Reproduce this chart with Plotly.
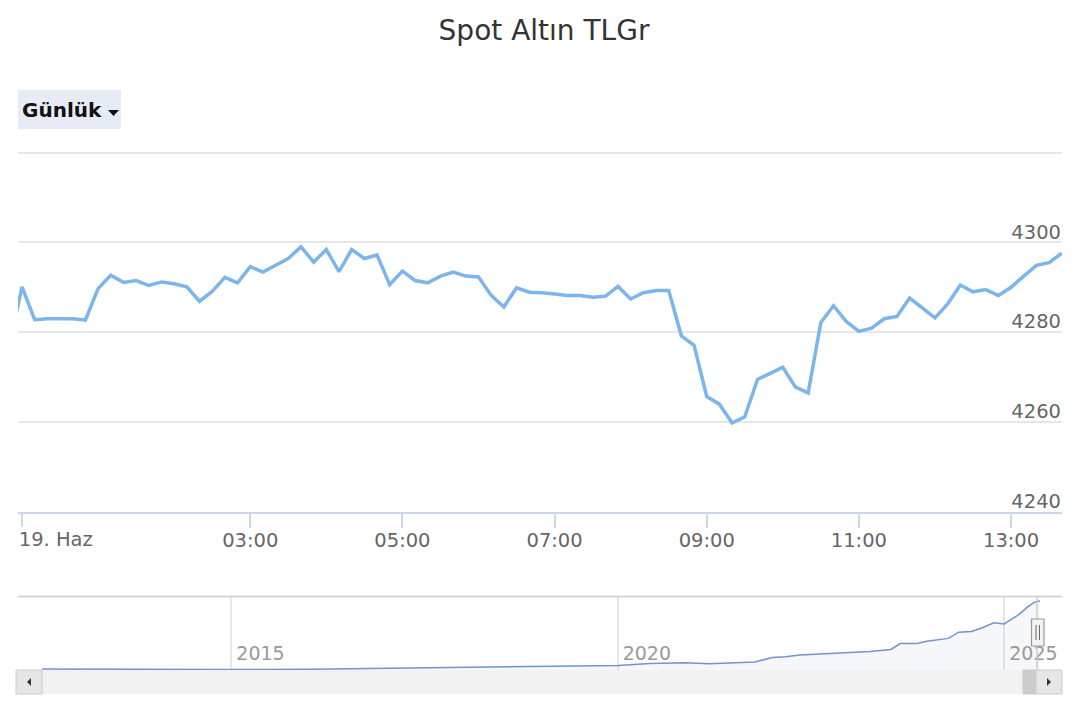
import pandas as pd
import plotly.graph_objects as go

# ---------------- data ----------------
TITLE = "Spot Altın TLGr"
BUTTON_LABEL = "Günlük"

# 10-minute intraday prices (first point is the last bar of the previous day)
times = pd.date_range("2025-06-18 23:50", "2025-06-19 13:40", freq="10min")
prices = [4277.0,
          4290.1, 4282.8, 4283.0, 4283.0, 4283.0, 4282.7, 4289.7, 4292.7, 4291.1, 4291.5,
          4290.4, 4291.2, 4290.8, 4290.1, 4286.9, 4289.1, 4292.2, 4291.0, 4294.6, 4293.4,
          4294.9, 4296.4, 4299.0, 4295.6, 4298.4, 4293.5, 4298.4, 4296.4, 4297.2, 4290.6,
          4293.6, 4291.5, 4291.0, 4292.5, 4293.4, 4292.5, 4292.3, 4288.2, 4285.6, 4289.9,
          4288.9, 4288.8, 4288.5, 4288.2, 4288.2, 4287.8, 4288.0, 4290.2, 4287.4, 4288.8,
          4289.3, 4289.3, 4279.2, 4277.1, 4265.7, 4264.0, 4259.8, 4261.2, 4269.5, 4270.9,
          4272.2, 4267.8, 4266.5, 4282.2, 4285.9, 4282.4, 4280.2, 4280.9, 4283.0, 4283.5,
          4287.6, 4285.4, 4283.2, 4286.3, 4290.5, 4289.0, 4289.5, 4288.2, 4290.0, 4292.5,
          4294.9, 4295.5, 4297.6]

x_tick_vals = ["2025-06-19 00:00", "2025-06-19 03:00", "2025-06-19 05:00", "2025-06-19 07:00",
               "2025-06-19 09:00", "2025-06-19 11:00", "2025-06-19 13:00"]
x_tick_text = ["19. Haz", "03:00", "05:00", "07:00", "09:00", "11:00", "13:00"]
y_tick_vals = [4240, 4260, 4280, 4300, 4320]
y_tick_text = ["4240", "4260", "4280", "4300", ""]

# navigator (long-term history)
nav_dates = ["2012-07-21", "2013-06-01", "2013-12-15", "2014-06-15", "2015-01-01", "2016-01-01",
             "2016-09-01", "2017-12-01", "2018-09-05", "2018-12-15", "2020-01-01", "2020-06-01",
             "2020-11-15", "2021-03-10", "2021-06-15", "2021-10-10", "2022-01-01", "2022-03-05",
             "2022-05-10", "2022-09-05", "2022-12-28", "2023-04-08", "2023-07-15", "2023-08-28",
             "2023-11-17", "2024-01-01", "2024-04-12", "2024-05-30", "2024-07-30", "2024-09-16",
             "2024-11-13", "2025-01-01", "2025-01-15", "2025-03-14", "2025-04-23", "2025-05-26",
             "2025-06-19"]
nav_values = [121, 95, 86, 88, 90, 110,
              150, 200, 256, 256, 342, 465,
              508, 447, 508, 551, 828, 871,
              982, 1043, 1105, 1191, 1320, 1683,
              1683, 1830, 2003, 2384, 2427, 2642,
              2956, 2894, 3023, 3491, 3958, 4241,
              4297]
nav_tick_vals = ["2015-01-01", "2020-01-01", "2025-01-01"]
nav_tick_text = ["2015", "2020", "2025"]

# ---------------- layout helpers ----------------
# the page body has an 8px margin, so the figure is 1072x712 placed at (8, 8)
OFF = 8
W, H = 1080 - OFF, 720 - OFF
def px(x):
    return (x - OFF) / W
def py(y):
    return 1 - (y - OFF) / H

FONT = "DejaVu Sans"
LABEL = "#666666"
GRID = "#e6e6e6"
X_RANGE = ["2025-06-18 23:56:51", "2025-06-19 13:40:10"]
Y_RANGE = [4240, 4322]

fig = go.Figure()

fig.add_trace(go.Scatter(
    x=times, y=prices, mode="lines",
    line=dict(color="#7cb5ec", width=3.5),
    hoverinfo="x+y", showlegend=False, xaxis="x", yaxis="y"))

# invisible anchor trace so that the overlaid day-label axis is rendered
fig.add_trace(go.Scatter(
    x=x_tick_vals[:1], y=[Y_RANGE[0]], mode="markers", marker=dict(opacity=0),
    hoverinfo="skip", showlegend=False, xaxis="x3", yaxis="y"))

fig.add_trace(go.Scatter(
    x=nav_dates, y=nav_values, mode="lines",
    line=dict(color="#7393c9", width=1.5),
    fill="tozeroy", fillcolor="rgba(51,92,173,0.05)",
    hoverinfo="skip", showlegend=False, xaxis="x2", yaxis="y2"))

shapes = []
# navigator outline
shapes.append(dict(type="line", xref="paper", yref="paper", x0=px(18), x1=px(1062),
                   y0=py(596.5), y1=py(596.5), line=dict(color="#cccccc", width=1.5)))
shapes.append(dict(type="line", xref="paper", yref="paper", x0=px(1037), x1=px(1037),
                   y0=py(596.5), y1=py(670), line=dict(color="#cccccc", width=1.5)))
# navigator handle
shapes.append(dict(type="rect", xref="paper", yref="paper", x0=px(1031.5), x1=px(1044),
                   y0=py(619), y1=py(646), fillcolor="#f2f2f2", line=dict(color="#999999", width=1.2)))
for hx in (1036, 1039.5):
    shapes.append(dict(type="line", xref="paper", yref="paper", x0=px(hx), x1=px(hx),
                       y0=py(625), y1=py(640), line=dict(color="#666666", width=1)))
# scrollbar track
shapes.append(dict(type="rect", xref="paper", yref="paper", x0=px(16), x1=px(1062),
                   y0=py(670), y1=py(694), fillcolor="#f2f2f2", line=dict(width=0)))
# scrollbar thumb
shapes.append(dict(type="rect", xref="paper", yref="paper", x0=px(1023), x1=px(1036),
                   y0=py(670), y1=py(694), fillcolor="#cccccc", line=dict(color="#cccccc", width=1)))
# scrollbar buttons
for bx0, bx1 in ((16, 42), (1036, 1062)):
    shapes.append(dict(type="rect", xref="paper", yref="paper", x0=px(bx0), x1=px(bx1),
                       y0=py(670), y1=py(694), fillcolor="#e6e6e6", line=dict(color="#cccccc", width=1)))
# arrows
shapes.append(dict(type="path", xref="paper", yref="paper",
                   path=f"M {px(27)},{py(682)} L {px(31)},{py(678)} L {px(31)},{py(686)} Z",
                   fillcolor="#333333", line=dict(width=0)))
shapes.append(dict(type="path", xref="paper", yref="paper",
                   path=f"M {px(1051)},{py(682)} L {px(1047)},{py(678)} L {px(1047)},{py(686)} Z",
                   fillcolor="#333333", line=dict(width=0)))
# range selector button
shapes.append(dict(type="rect", xref="paper", yref="paper", x0=px(18), x1=px(121),
                   y0=py(90), y1=py(129), fillcolor="#e6ebf5", line=dict(width=0), layer="below"))
shapes.append(dict(type="path", xref="paper", yref="paper",
                   path=f"M {px(108)},{py(110)} L {px(119)},{py(110)} L {px(113.5)},{py(116)} Z",
                   fillcolor="#111111", line=dict(width=0)))

x_common = dict(domain=[px(18), px(1062)], type="date", range=X_RANGE,
                showgrid=False, zeroline=False, fixedrange=True,
                tickfont=dict(size=19.5, color=LABEL))

# y pixel scale: 4240 at y=512, 4320 at y=152.5
y_top_px = 512 - (Y_RANGE[1] - Y_RANGE[0]) * (512 - 152.5) / 80

fig.update_layout(
    width=W, height=H,
    margin=dict(l=0, r=0, t=0, b=0),
    paper_bgcolor="white", plot_bgcolor="white",
    font=dict(family=FONT, color=LABEL),
    showlegend=False,
    title=dict(text=TITLE, x=0.5, xanchor="center", y=py(30), yanchor="middle", yref="container",
               font=dict(family=FONT, size=28, color="#333333")),
    xaxis=dict(**x_common, anchor="y",
               tickmode="array", tickvals=x_tick_vals[1:], ticktext=x_tick_text[1:],
               ticks="outside", ticklen=14, tickwidth=1.5, tickcolor="#ccd6eb",
               ticklabelstandoff=-4,
               showline=True, linecolor="#ccd6eb", linewidth=1.5),
    xaxis3=dict(**x_common, anchor="y", overlaying="x", side="bottom",
                tickmode="array", tickvals=x_tick_vals[:1], ticktext=x_tick_text[:1],
                ticklabelposition="outside right", ticklabelshift=-4,
                ticks="outside", ticklen=14, tickwidth=1.5, tickcolor="#ccd6eb",
                ticklabelstandoff=10, showline=False),
    yaxis=dict(domain=[py(512), py(y_top_px)], anchor="x", range=Y_RANGE, side="right",
               tickmode="array", tickvals=y_tick_vals, ticktext=y_tick_text,
               ticklabelposition="inside top", ticklabelshift=3, ticklabelstandoff=-2,
               ticklabeloverflow="allow",
               showgrid=True, gridcolor=GRID, gridwidth=1.5, fixedrange=True,
               zeroline=False, showline=False, ticks="",
               tickfont=dict(size=19.5, color=LABEL)),
    xaxis2=dict(domain=[px(18), px(1062)], anchor="y2", type="date",
                range=["2012-03-29", "2025-10-01"],
                tickmode="array", tickvals=nav_tick_vals, ticktext=nav_tick_text,
                ticklabelposition="inside right", ticklabelshift=5, ticks="",
                showgrid=True, gridcolor=GRID, gridwidth=1.5,
                showline=False, zeroline=False, fixedrange=True,
                tickfont=dict(size=19, color="#999999")),
    yaxis2=dict(domain=[py(670), py(596.5)], anchor="x2", range=[59, 4577],
                visible=False, fixedrange=True),
    shapes=shapes,
    annotations=[dict(text=f"<b>{BUTTON_LABEL}</b>", xref="paper", yref="paper",
                      x=px(20), y=py(110), xanchor="left", yanchor="middle", showarrow=False,
                      font=dict(family=FONT, size=20, color="#111111"))],
)

fig.write_html("out.html")
